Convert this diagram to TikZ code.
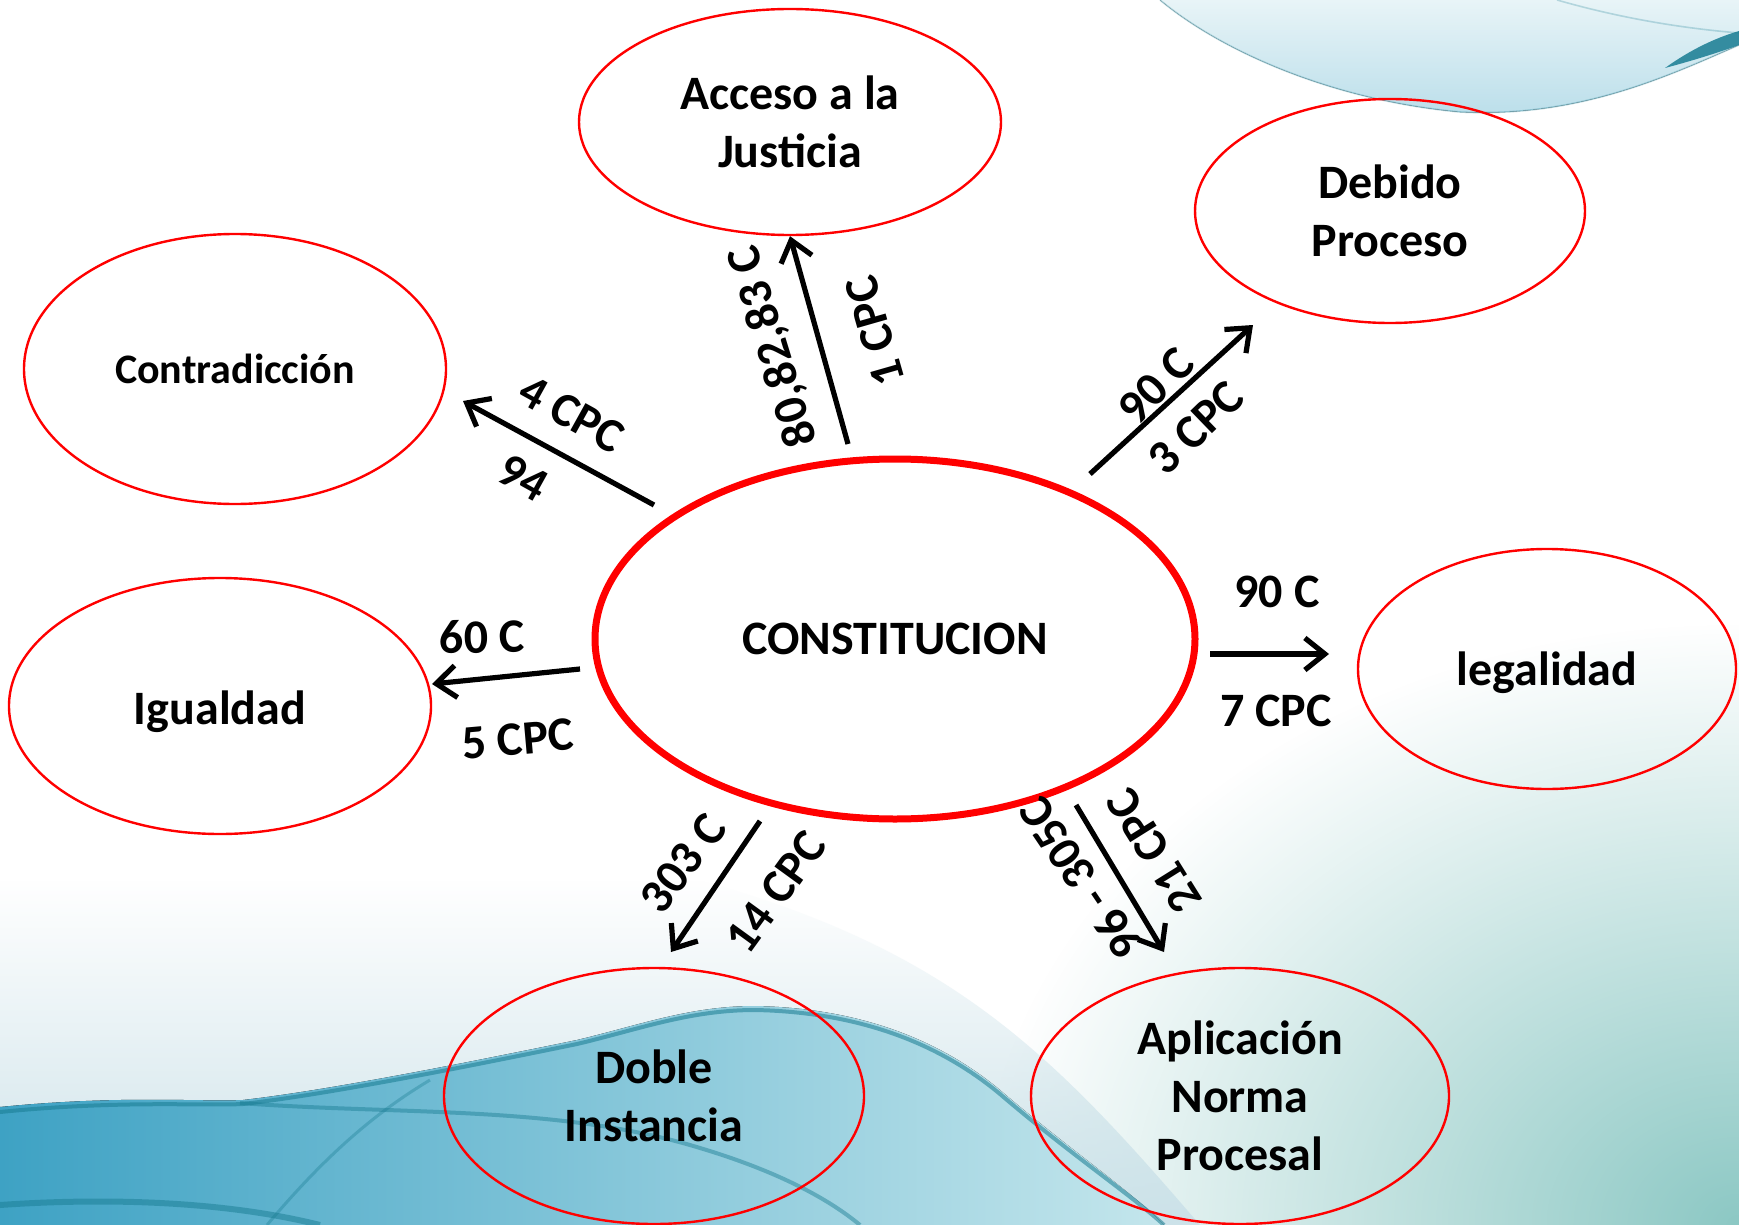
\documentclass[tikz,border=0pt]{standalone}
\usepackage{fontspec}
\setmainfont{Carlito}
\usetikzlibrary{shapes.geometric,arrows.meta,fadings}

\definecolor{haze}{RGB}{204,226,233}
\definecolor{wavemid}{RGB}{62,162,196}
\definecolor{wavelight}{RGB}{196,230,236}
\definecolor{wavedark}{RGB}{24,124,146}
\definecolor{bandpale}{RGB}{232,244,247}
\definecolor{bandblue}{RGB}{186,222,234}
\definecolor{cornerteal}{RGB}{140,200,196}

\tikzfading[name=cornerfade,inner color=transparent!0,outer color=transparent!100]

\begin{document}
\begin{tikzpicture}[x=0.5pt,y=-0.5pt,
    idea/.style={ellipse,draw=red,line width=1.2pt,inner sep=0pt,align=center,font=\bfseries\fontsize{24}{29}\selectfont},
    core/.style={idea,line width=3.5pt},
    lbl/.style={inner sep=0pt,font=\bfseries\fontsize{24}{28}\selectfont},
    arr/.style={-{Straight Barb[length=10pt,width=16pt]},line width=2.6pt}]

    \useasboundingbox (0,0) rectangle (1739,1225);
    \fill[white] (0,0) rectangle (1739,1225);

    % background waves
    \begin{scope}
    \clip (0,0) rectangle (1739,1225);
    \fill[cornerteal,path fading=cornerfade] (1739,1225) ellipse [x radius=760,y radius=600];
    \fill[haze,path fading=north] (0,880) -- (700,880) .. controls (950,950) and (1050,1050) .. (1200,1225) -- (0,1225) -- cycle;
    \fill[left color=wavemid,right color=wavelight] (0,1107) .. controls (120,1095) and (200,1102) .. (243,1100)
        .. controls (330,1090) and (470,1062) .. (577,1040) .. controls (640,1025) and (690,1006) .. (755,1006)
        .. controls (860,1008) and (940,1040) .. (1000,1090) .. controls (1070,1150) and (1130,1190) .. (1164,1225)
        -- (0,1225) -- cycle;
    \draw[wavedark,line width=2pt,opacity=.55] (0,1112) .. controls (120,1100) and (200,1106) .. (243,1104)
        .. controls (330,1094) and (470,1066) .. (577,1044) .. controls (640,1029) and (690,1010) .. (755,1010)
        .. controls (860,1012) and (940,1044) .. (1000,1094) .. controls (1070,1154) and (1130,1194) .. (1164,1225);
    \draw[wavedark,line width=2pt,opacity=.45] (240,1103) .. controls (400,1115) and (560,1105) .. (700,1148) .. controls (780,1172) and (830,1200) .. (860,1225);
    \draw[wavedark,line width=1.5pt,opacity=.35] (267,1225) .. controls (330,1150) and (380,1110) .. (430,1080);
    \draw[wavedark,line width=3pt,opacity=.5] (0,1205) .. controls (100,1198) and (220,1200) .. (320,1225);
    \fill[top color=bandpale,bottom color=bandblue] (1160,0) .. controls (1220,50) and (1330,100) .. (1460,112)
        .. controls (1580,118) and (1670,75) .. (1739,45) -- (1739,0) -- cycle;
    \draw[wavedark,line width=.8pt,opacity=.3] (1160,0) .. controls (1220,50) and (1330,100) .. (1460,112)
        .. controls (1580,118) and (1670,75) .. (1739,45);
    \draw[wavedark,line width=.8pt,opacity=.25] (1557,0) .. controls (1620,18) and (1680,28) .. (1739,33);
    \fill[wavedark,opacity=.85] (1665,68) .. controls (1695,60) and (1720,52) .. (1739,45) -- (1739,31) .. controls (1715,38) and (1690,50) .. (1665,68) -- cycle;
    \end{scope}

    % ellipses
    \node[core,minimum width=300pt,minimum height=180pt] (cen) at (895,639) {CONSTITUCION};
    \node[idea,minimum width=211pt,minimum height=113pt] (acc) at (790,122) {Acceso a la\\Justicia};
    \node[idea,minimum width=195pt,minimum height=112pt] (deb) at (1390,211) {Debido\\Proceso};
    \node[idea,minimum width=211pt,minimum height=135pt,font=\bfseries\fontsize{21}{25}\selectfont] (con) at (235,369) {Contradicción};
    \node[idea,minimum width=211pt,minimum height=128pt] (igu) at (220,706) {\raisebox{-2.8pt}[\height][\depth]{Igualdad}};
    \node[idea,minimum width=189pt,minimum height=120pt] (leg) at (1547,669) {\raisebox{-1.8pt}[\height][\depth]{legalidad}};
    \node[idea,minimum width=210pt,minimum height=128pt] (dob) at (654,1096) {Doble\\Instancia};
    \node[idea,minimum width=209pt,minimum height=128pt] (apl) at (1240,1096) {Aplicación\\Norma\\Procesal};

    % arrow ends
    \coordinate (t1) at (848,444);
    \coordinate (t2) at (1090,474);  \coordinate (h2) at (1253,325);
    \coordinate (t3) at (654,505);   \coordinate (h3) at (463,401);
    \coordinate (t4) at (580,669);   \coordinate (h4) at (432,684);
    \coordinate (t5) at (1210,654);  \coordinate (h5) at (1329,654);
    \coordinate (t6) at (760,821);   \coordinate (h6) at (671,952);
    \coordinate (t7) at (1076,805);  \coordinate (h7) at (1164,952);

    \draw[arr] (t1) to (acc.south);
    \draw[arr] (t2) to (h2);
    \draw[arr] (t3) to (h3);
    \draw[arr] (t4) to (h4);
    \draw[arr] (t5) to (h5);
    \draw[arr] (t6) to (h6);
    \draw[arr] (t7) to (h7);

    % labels
    \node[lbl,rotate=107] (l1a) at (774,346) {80,82,83 C};
    \node[lbl,rotate=106] (l1b) at (875,331) {1 CPC};
    \node[lbl,rotate=46] (l2a) at (1156,386) {90 C};
    \node[lbl,rotate=44] (l2b) at (1196,428) {3 CPC};
    \node[lbl,rotate=-29] (l3a) at (572,414) {4 CPC};
    \node[lbl,rotate=-29] (l3b) at (523,478) {94};
    \node[lbl,rotate=1] (l4a) at (482,637) {60 C};
    \node[lbl,rotate=5] (l4b) at (518,739) {5 CPC};
    \node[lbl] (l5a) at (1277,592) {90 C};
    \node[lbl] (l5b) at (1276,711) {7 CPC};
    \node[lbl,rotate=53] (l6a) at (683,863) {303 C};
    \node[lbl,rotate=54] (l6b) at (776,892) {14 CPC};
    \node[lbl,rotate=124] (l7a) at (1081,879) {96 - 305C};
    \node[lbl,rotate=122] (l7b) at (1154,851) {21 CPC};

\end{tikzpicture}
\end{document}
